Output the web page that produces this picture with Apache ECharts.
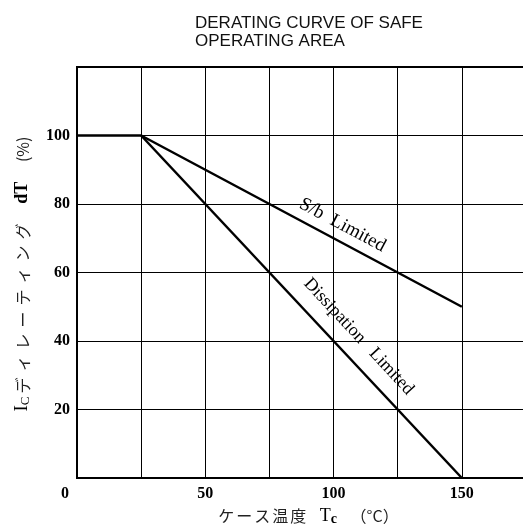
<!DOCTYPE html>
<html><head><meta charset="utf-8">
<script src="https://cdn.jsdelivr.net/npm/echarts@6/dist/echarts.min.js"></script>
<style>html,body{margin:0;padding:0;background:#fff}#c{width:523px;height:530px}</style>
</head><body><div id="c"></div>
<script>
var sbLimited = [[0,100],[25,100],[150,50]];
var dissLimited = [[25,100],[150,0]];
var xTicks = [0,50,100,150];
var yTicks = [0,20,40,60,80,100];
var sbLabelPos = [103.5, 73.8];
var dissLabelPos = [109.8, 41.3];
var yNameKana = 'ディレーティング';
var xNameKana = 'ケース温度';

var chart = echarts.init(document.getElementById('c'), null, {renderer:'canvas'});
var serif = '"Liberation Serif", "DejaVu Serif", serif';
var cjk = '"Noto Sans CJK JP", sans-serif';

function spaced(str, tag){
  return str.split('').map(function(ch){ return '{' + tag + '|' + ch + '}'; }).join('');
}

chart.setOption({
  animation:false,
  backgroundColor:'#fff',
  title:{
    text:'DERATING CURVE OF SAFE\nOPERATING AREA',
    left:190, top:9,
    textStyle:{fontFamily:'"Liberation Sans", sans-serif', fontSize:17, fontWeight:'normal', color:'#111', lineHeight:18}
  },
  grid:{left:77, top:67, width:449, height:411, outerBoundsMode:'none', containLabel:false,
        show:true, borderColor:'#000', borderWidth:2, backgroundColor:'transparent'},
  xAxis:{
    type:'value', min:0, max:175, interval:25,
    axisLine:{show:true, lineStyle:{color:'#000', width:2}},
    axisTick:{show:false},
    splitLine:{show:true, lineStyle:{color:'#000', width:1}},
    axisLabel:{
      margin:8,
      fontFamily:serif, fontSize:16, fontWeight:'bold', color:'#000',
      formatter:function(v){ if(v===0) return '{z|0}'; return xTicks.indexOf(v)>=0 ? String(v) : ''; },
      rich:{z:{fontFamily:serif, fontSize:16, fontWeight:'bold', color:'#000', padding:[0,24,4,0]}}
    },
    name:'{p|}' + spaced(xNameKana,'j') + '{s|   }{t|T}{c|c}{s|   }{j|（°C）}',
    nameLocation:'middle', nameGap:28,
    nameTextStyle:{
      rich:{
        p:{width:14},
        j:{fontFamily:cjk, fontSize:16, color:'#222', padding:[0,1,0,1]},
        s:{fontSize:15},
        t:{fontFamily:serif, fontSize:18, color:'#000'},
        c:{fontFamily:serif, fontSize:14, fontWeight:'bold', color:'#000', padding:[6,0,0,0]}
      }
    }
  },
  yAxis:{
    type:'value', min:0, max:120, interval:20,
    axisLine:{show:true, lineStyle:{color:'#000', width:2}},
    axisTick:{show:false},
    splitLine:{show:true, lineStyle:{color:'#000', width:1}},
    axisLabel:{
      margin:7,
      fontFamily:serif, fontSize:16, fontWeight:'bold', color:'#000',
      formatter:function(v){ return (v>0 && yTicks.indexOf(v)>=0) ? String(v) : ''; }
    },
    name:'{i|I}{c|C}' + spaced(yNameKana,'j') + '{s|    }{t|dT}{s|    }{j|(%)}',
    nameLocation:'middle', nameGap:45, nameRotate:90,
    nameTextStyle:{
      rich:{
        i:{fontFamily:serif, fontSize:19, color:'#000'},
        c:{fontFamily:serif, fontSize:13, color:'#000', padding:[6,0,0,0]},
        j:{fontFamily:cjk, fontSize:16, color:'#222', padding:[0,3,0,3]},
        s:{fontSize:15},
        t:{fontFamily:serif, fontSize:18, fontWeight:'bold', color:'#000'}
      }
    }
  },
  series:[
    {
      name:'S/b Limited', type:'line', data:sbLimited, symbol:'none',
      lineStyle:{color:'#000', width:2.5},
      markPoint:{
        symbol:'circle', symbolSize:0,
        data:[{coord:sbLabelPos, value:'S/b Limited'}],
        label:{show:true, position:'inside', rotate:-28, formatter:'S/b  Limited',
               fontFamily:serif, fontSize:19, color:'#000'}
      }
    },
    {
      name:'Dissipation Limited', type:'line', data:dissLimited, symbol:'none',
      lineStyle:{color:'#000', width:2.5},
      markPoint:{
        symbol:'circle', symbolSize:0,
        data:[{coord:dissLabelPos, value:'Dissipation Limited'}],
        label:{show:true, position:'inside', rotate:-47, formatter:'Dissipation   Limited',
               fontFamily:serif, fontSize:18, color:'#000'}
      }
    }
  ]
});
</script>
</body></html>
